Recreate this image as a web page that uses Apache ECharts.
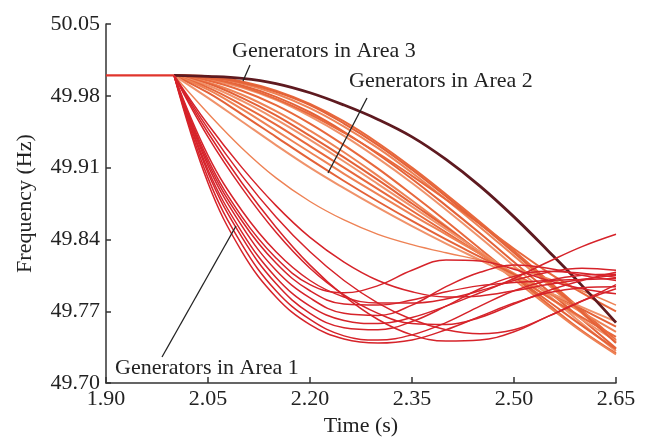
<!DOCTYPE html>
<html>
<head>
<meta charset="utf-8">
<script src="https://cdn.jsdelivr.net/npm/echarts@6/dist/echarts.min.js"></script>
<style>
html,body{margin:0;padding:0;background:#fff;}
#chart{width:646px;height:442px;}
</style>
</head>
<body>
<div id="chart"></div>
<script>
// ---- Data (Frequency in Hz vs time in s) ----
const times = [2.00, 2.05, 2.10, 2.15, 2.20, 2.25, 2.30, 2.35, 2.40, 2.45, 2.50, 2.55, 2.60, 2.65];
const preTimes = [1.90, 2.00];
const preValues = [50.000, 50.000];

const xTicks = [1.90, 2.05, 2.20, 2.35, 2.50, 2.65];
const yTicks = [49.70, 49.77, 49.84, 49.91, 49.98, 50.05];

// Area 3 (dark)
const area3 = [50.000, 49.999, 49.997, 49.992, 49.983, 49.971, 49.957, 49.940, 49.918, 49.892, 49.862, 49.829, 49.795, 49.759];

// Area 2 (orange)
const a2_01 = [50.000, 49.999, 49.994, 49.985, 49.972, 49.955, 49.934, 49.910, 49.884, 49.857, 49.829, 49.800, 49.771, 49.742];
const a2_02 = [50.000, 49.998, 49.992, 49.982, 49.968, 49.950, 49.929, 49.905, 49.879, 49.852, 49.824, 49.796, 49.768, 49.740];
const a2_03 = [50.000, 49.997, 49.990, 49.979, 49.964, 49.945, 49.923, 49.899, 49.873, 49.846, 49.818, 49.790, 49.762, 49.734];
const a2_04 = [50.000, 49.996, 49.988, 49.976, 49.960, 49.941, 49.919, 49.895, 49.869, 49.842, 49.814, 49.786, 49.758, 49.731];
const a2_05 = [50.000, 49.995, 49.985, 49.971, 49.953, 49.932, 49.909, 49.884, 49.858, 49.831, 49.804, 49.777, 49.751, 49.729];
const a2_06 = [50.000, 49.993, 49.981, 49.965, 49.946, 49.925, 49.902, 49.878, 49.853, 49.827, 49.801, 49.775, 49.750, 49.728];
const a2_07 = [50.000, 49.992, 49.978, 49.961, 49.941, 49.920, 49.898, 49.875, 49.852, 49.828, 49.804, 49.780, 49.756, 49.733];
const a2_08 = [50.000, 49.990, 49.975, 49.957, 49.937, 49.916, 49.894, 49.872, 49.850, 49.828, 49.806, 49.784, 49.762, 49.741];
const a2_09 = [50.000, 49.988, 49.971, 49.952, 49.931, 49.910, 49.889, 49.868, 49.847, 49.826, 49.805, 49.784, 49.764, 49.745];
const a2_10 = [50.000, 49.986, 49.967, 49.946, 49.925, 49.904, 49.884, 49.864, 49.845, 49.826, 49.807, 49.788, 49.769, 49.750];
const a2_11 = [50.000, 49.983, 49.962, 49.940, 49.918, 49.897, 49.877, 49.858, 49.840, 49.823, 49.806, 49.789, 49.772, 49.755];
const a2_12 = [50.000, 49.978, 49.955, 49.932, 49.910, 49.890, 49.871, 49.853, 49.836, 49.820, 49.804, 49.789, 49.774, 49.760];
const a2_13 = [50.000, 49.997, 49.989, 49.977, 49.962, 49.944, 49.924, 49.902, 49.879, 49.855, 49.831, 49.808, 49.788, 49.770];
const a2_14 = [50.000, 49.963, 49.929, 49.900, 49.877, 49.859, 49.845, 49.835, 49.827, 49.820, 49.812, 49.802, 49.790, 49.776];
const a2_15 = [50.000, 49.998, 49.993, 49.984, 49.971, 49.953, 49.932, 49.908, 49.882, 49.855, 49.827, 49.798, 49.769, 49.739];

// Area 1 (red)
const a1_01 = [50.000, 49.895, 49.828, 49.784, 49.757, 49.743, 49.739, 49.742, 49.752, 49.765, 49.778, 49.788, 49.793, 49.794];
const a1_02 = [50.000, 49.900, 49.835, 49.790, 49.762, 49.746, 49.742, 49.747, 49.759, 49.775, 49.790, 49.800, 49.805, 49.806];
const a1_03 = [50.000, 49.905, 49.842, 49.797, 49.768, 49.754, 49.752, 49.760, 49.775, 49.792, 49.804, 49.809, 49.807, 49.803];
const a1_04 = [50.000, 49.908, 49.847, 49.803, 49.775, 49.761, 49.758, 49.764, 49.775, 49.788, 49.802, 49.818, 49.833, 49.845];
const a1_05 = [50.000, 49.912, 49.853, 49.810, 49.783, 49.768, 49.766, 49.776, 49.794, 49.808, 49.815, 49.812, 49.805, 49.800];
const a1_06 = [50.000, 49.915, 49.858, 49.817, 49.790, 49.777, 49.776, 49.781, 49.789, 49.795, 49.798, 49.800, 49.801, 49.802];
const a1_07 = [50.000, 49.918, 49.862, 49.822, 49.796, 49.788, 49.795, 49.810, 49.820, 49.819, 49.811, 49.800, 49.792, 49.787];
const a1_08 = [50.000, 49.922, 49.868, 49.828, 49.800, 49.784, 49.778, 49.778, 49.782, 49.790, 49.800, 49.808, 49.812, 49.810];
const a1_09 = [50.000, 49.952, 49.910, 49.873, 49.842, 49.818, 49.800, 49.789, 49.784, 49.785, 49.790, 49.796, 49.801, 49.805];
const a1_10 = [50.000, 49.948, 49.902, 49.862, 49.828, 49.800, 49.778, 49.762, 49.752, 49.748, 49.752, 49.765, 49.780, 49.796];
const a1_11 = [50.000, 49.940, 49.890, 49.847, 49.812, 49.786, 49.768, 49.758, 49.757, 49.764, 49.777, 49.790, 49.800, 49.808];
const a1_12 = [50.000, 49.944, 49.895, 49.852, 49.815, 49.785, 49.762, 49.747, 49.741, 49.742, 49.750, 49.765, 49.780, 49.792];

// ---- Build chart ----
const area2Curves = [a2_01, a2_02, a2_03, a2_04, a2_05, a2_06, a2_07, a2_08, a2_09, a2_10, a2_11, a2_12, a2_13, a2_14, a2_15];
const area1Curves = [a1_01, a1_02, a1_03, a1_04, a1_05, a1_06, a1_07, a1_08, a1_09, a1_10, a1_11, a1_12];

const ORANGE = ['#e8683c', '#ee8255', '#e46238', '#f0926a'];
const RED = '#d6232a';
const DARK = '#5e1a20';

function mk(xs, vals, color, width, z) {
  return {
    type: 'line',
    data: xs.map((t, i) => [t, vals[i]]),
    smooth: 0.4,
    symbol: 'none',
    showSymbol: false,
    silent: true,
    z: z,
    lineStyle: { color: color, width: width }
  };
}

const series = [];
area2Curves.forEach((c, i) => series.push(mk(times, c, ORANGE[i % ORANGE.length], i === 13 ? 1.4 : 2, 2)));
series.push(mk(times, area3, DARK, 2.8, 3));
area1Curves.forEach(c => series.push(mk(times, c, RED, 1.5, 4)));
series.push(mk(preTimes, preValues, '#e0352c', 2.2, 5));

const FONT = "'Liberation Serif', 'DejaVu Serif', 'Times New Roman', serif";
const TXT = '#222';
const FS = 22;

const chart = echarts.init(document.getElementById('chart'), null, { renderer: 'canvas' });
chart.setOption({
  animation: false,
  backgroundColor: '#fff',
  grid: { left: 106, right: 30, top: 24, bottom: 50, containLabel: false },
  xAxis: {
    type: 'value',
    min: 1.90, max: 2.65,
    name: 'Time (s)',
    nameLocation: 'middle',
    nameGap: 27,
    nameTextStyle: { fontFamily: FONT, fontSize: FS, color: TXT },
    axisLine: { show: true, lineStyle: { color: '#333', width: 1.5 } },
    axisTick: { show: true, inside: true, length: 6, customValues: xTicks, lineStyle: { color: '#333', width: 1.5 } },
    axisLabel: { customValues: xTicks, margin: 5, fontFamily: FONT, fontSize: FS, color: TXT, formatter: v => v.toFixed(2) },
    splitLine: { show: false }
  },
  yAxis: {
    type: 'value',
    min: 49.70, max: 50.05,
    name: 'Frequency (Hz)',
    nameLocation: 'middle',
    nameGap: 70,
    nameRotate: 90,
    nameTextStyle: { fontFamily: FONT, fontSize: FS, color: TXT },
    axisLine: { show: true, lineStyle: { color: '#333', width: 1.5 } },
    axisTick: { show: true, inside: true, length: 5, customValues: yTicks, lineStyle: { color: '#333', width: 1.5 } },
    axisLabel: { customValues: yTicks, margin: 6, fontFamily: FONT, fontSize: FS, color: TXT, formatter: v => v.toFixed(2) },
    splitLine: { show: false }
  },
  series: series,
  graphic: [
    { type: 'text', left: 232, top: 40, z: 100, style: { text: 'Generators in Area 3', font: FS + 'px ' + FONT, fill: TXT } },
    { type: 'line', z: 100, shape: { x1: 250, y1: 65, x2: 243, y2: 81 }, style: { stroke: '#222', lineWidth: 1.3 } },
    { type: 'text', left: 349, top: 70, z: 100, style: { text: 'Generators in Area 2', font: FS + 'px ' + FONT, fill: TXT } },
    { type: 'line', z: 100, shape: { x1: 367, y1: 98, x2: 328, y2: 173 }, style: { stroke: '#222', lineWidth: 1.3 } },
    { type: 'text', left: 115, top: 357, z: 100, style: { text: 'Generators in Area 1', font: FS + 'px ' + FONT, fill: TXT } },
    { type: 'line', z: 100, shape: { x1: 162, y1: 357, x2: 236, y2: 226 }, style: { stroke: '#222', lineWidth: 1.3 } }
  ]
});
</script>
</body>
</html>
